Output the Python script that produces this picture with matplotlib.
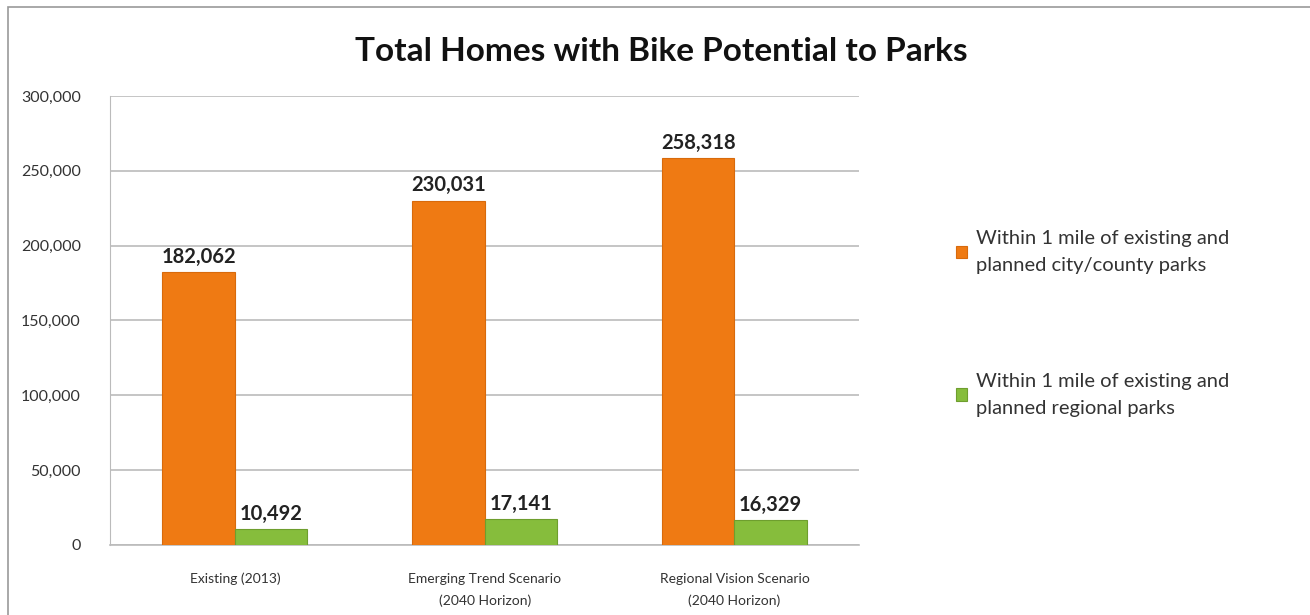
import matplotlib
matplotlib.use('Agg')
import matplotlib.pyplot as plt
from matplotlib.patches import Rectangle
import numpy as np

plt.rcParams['font.family'] = ['Lato', 'DejaVu Sans']

# chart data
scenarios = ['Existing (2013)', 'Emerging Trend Scenario\n(2040 Horizon)',
             'Regional Vision Scenario\n(2040 Horizon)']
city_county = [182062, 230031, 258318]
regional = [10492, 17141, 16329]
series_names = ['Within 1 mile of existing and\nplanned city/county parks',
                'Within 1 mile of existing and\nplanned regional parks']
y_ticks = [0, 50000, 100000, 150000, 200000, 250000, 300000]

orange = '#EF7A13'
green = '#86BD3C'

fig = plt.figure(figsize=(13.1, 6.15), dpi=100)
ax = fig.add_axes([0.084, 0.114, 0.572, 0.730])

x = np.arange(len(scenarios))
w = 0.29
b1 = ax.bar(x - w / 2, city_county, w, color=orange, edgecolor='#D86A0C', linewidth=0.8,
            label=series_names[0], zorder=3)
b2 = ax.bar(x + w / 2, regional, w, color=green, edgecolor='#6E9E2E', linewidth=0.8,
            label=series_names[1], zorder=3)

for rect, v in zip(list(b1) + list(b2), city_county + regional):
    ax.text(rect.get_x() + rect.get_width() / 2, v + 3500, f'{v:,}',
            ha='center', va='bottom', fontsize=14.5, fontweight='bold', color='#222222')

ax.set_xlim(-0.5, 2.5)
ax.set_ylim(0, 300000)
ax.set_yticks(y_ticks)
ax.set_yticklabels([f'{t:,}' for t in y_ticks], fontsize=11.5, color='#333333')
ax.set_xticks(x)
ax.set_xticklabels(scenarios, fontsize=10, color='#333333', linespacing=1.9)
ax.tick_params(axis='y', length=0, pad=21)
ax.tick_params(axis='x', length=0, pad=20)
ax.grid(axis='y', color='#BBBBBB', linewidth=1.2, zorder=0)
for s in ['top', 'right']:
    ax.spines[s].set_visible(False)
ax.spines['left'].set_color('#BBBBBB')
ax.spines['bottom'].set_color('#BBBBBB')
ax.spines['bottom'].set_linewidth(1.2)

fig.text(0.505, 0.917, 'Total Homes with Bike Potential to Parks', ha='center', va='center',
         fontsize=24, fontweight='bold', color='#111111')

ax.legend(handles=[b1, b2], loc='upper left', bbox_to_anchor=(0.716, 0.655),
          bbox_transform=fig.transFigure, frameon=False, fontsize=14.5,
          labelspacing=4.9, handlelength=0.55, handleheight=0.55, handletextpad=0.45,
          labelcolor='#333333')
for t in ax.get_legend().get_texts():
    t.set_linespacing(1.7)

# outer frame
fig.patches.append(Rectangle((0.006, -0.01), 1.0, 0.998, transform=fig.transFigure,
                             fill=False, edgecolor='#999999', linewidth=1.2))

fig.savefig('out.png', dpi=100, facecolor='white')
